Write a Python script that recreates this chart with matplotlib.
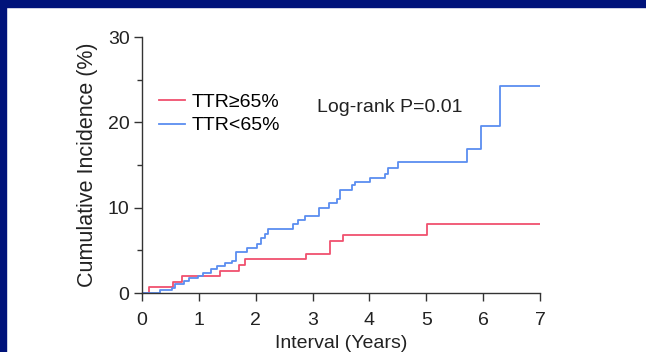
import numpy as np
import matplotlib.pyplot as plt
from matplotlib.patches import Rectangle

plt.rcParams['font.family'] = ['Liberation Sans', 'DejaVu Sans']

# TTR >= 65% (years, cumulative incidence %)
t_high = [0, 0.13, 0.55, 0.71, 1.37, 1.70, 1.82, 2.89, 3.30, 3.53, 5.02, 7.0]
v_high = [0, 0.7, 1.25, 1.95, 2.6, 3.3, 4.0, 4.6, 6.1, 6.8, 8.1, 8.1]

# TTR < 65%
t_low = [0, 0.32, 0.52, 0.58, 0.73, 0.83, 0.99, 1.08, 1.22, 1.32, 1.46, 1.58,
         1.65, 1.84, 2.03, 2.10, 2.16, 2.22, 2.65, 2.75, 2.86, 3.12, 3.29, 3.43,
         3.49, 3.69, 3.74, 4.01, 4.27, 4.33, 4.50, 5.72, 5.97, 6.29, 7.0]
v_low = [0, 0.3, 0.6, 1.0, 1.45, 1.7, 2.0, 2.4, 2.8, 3.2, 3.5, 3.8,
         4.85, 5.3, 5.8, 6.4, 6.9, 7.5, 8.1, 8.6, 9.0, 10.0, 10.5, 11.0,
         12.1, 12.6, 13.0, 13.5, 14.0, 14.6, 15.3, 16.9, 19.6, 24.3, 24.3]

x_ticks = [0, 1, 2, 3, 4, 5, 6, 7]
y_ticks = [0, 10, 20, 30]

red = '#f0506e'
blue = '#5b8ef0'
txt = '#222222'

fig = plt.figure(figsize=(6.46, 3.52), dpi=100)
ax = fig.add_axes([142/646, 1 - 293/352, 398/646, 256/352])

ax.plot(t_high, v_high, drawstyle='steps-post', color=red, lw=1.3, label='TTR≥65%')
ax.plot(t_low, v_low, drawstyle='steps-post', color=blue, lw=1.3, label='TTR<65%')

ax.set_xlim(0, 7)
ax.set_ylim(0, 30)
ax.set_xticks(x_ticks)
ax.set_yticks(y_ticks)
ax.set_yticks([5, 15, 25], minor=True)
ax.tick_params(which='major', direction='out', length=6, width=1, colors='#333333',
               labelsize=14, labelcolor=txt)
ax.tick_params(axis='x', pad=8)
ax.tick_params(axis='y', pad=3)
ax.tick_params(which='minor', direction='out', length=3.5, width=1, colors='#333333')
for s in ['top', 'right']:
    ax.spines[s].set_visible(False)
for s in ['left', 'bottom']:
    ax.spines[s].set_color('#333333')
    ax.spines[s].set_linewidth(1)

ax.set_xlabel('Interval (Years)', fontsize=14, color=txt, labelpad=4)
ax.set_ylabel('Cumulative Incidence (%)', fontsize=15.5, color=txt, labelpad=7)

ax.legend(loc='upper left', bbox_to_anchor=(0.024, 0.81), frameon=False, fontsize=14,
          handlelength=1.3, handletextpad=0.35, labelspacing=0.3, borderaxespad=0)
ax.text(0.623, 0.723, 'Log-rank P=0.01', transform=ax.transAxes, fontsize=14,
        ha='center', va='center', color=txt)

# navy frame of the slide
navy = '#00137a'
fig.patches.append(Rectangle((0, 1 - 7/352), 1, 7/352, transform=fig.transFigure,
                             color=navy, zorder=0))
fig.patches.append(Rectangle((0, 0), 6/646, 1, transform=fig.transFigure,
                             color=navy, zorder=0))

fig.savefig('out.png', dpi=100)
